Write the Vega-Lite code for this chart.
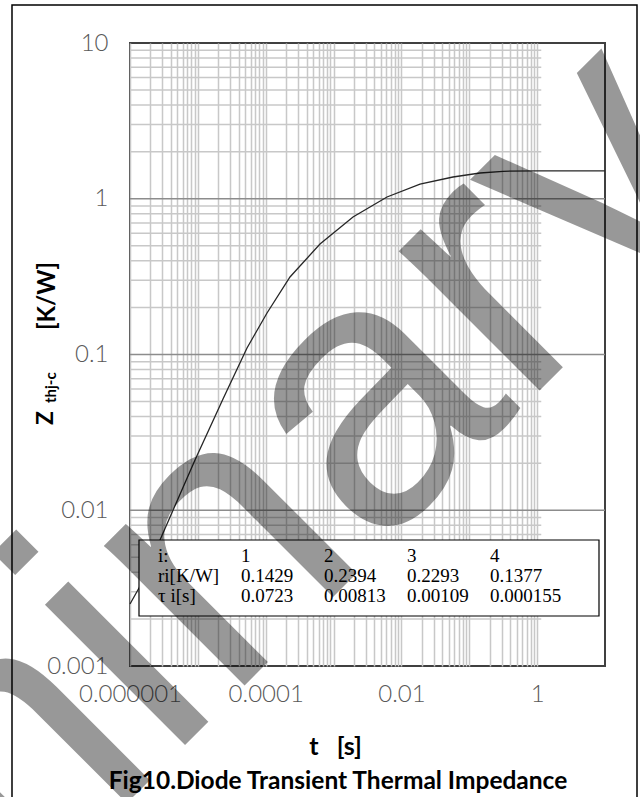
{
  "$schema": "https://vega.github.io/schema/vega-lite/v6.json",
  "width": 475,
  "height": 623,
  "autosize": {"type": "none"},
  "padding": {"left": 130, "top": 43, "right": 35, "bottom": 131},
  "background": "white",
  "config": {"view": {"stroke": "#404040", "strokeWidth": 2}},
  "resolve": {"scale": {"x": "independent", "y": "independent"}},
  "layer": [
    {
      "layer": [
        {
          "data": {"values": [{}]},
          "mark": {"type": "rect", "fill": "transparent", "stroke": "black", "strokeWidth": 1.5},
          "encoding": {
            "x": {"datum": 1.824e-8}, "x2": {"datum": 29.62},
            "y": {"datum": 17.54}, "y2": {"datum": 0.0001281}
          }
        },
        {
          "data": {"values": [
            {"z": 0.002}, {"z": 0.003}, {"z": 0.004}, {"z": 0.005}, {"z": 0.006}, {"z": 0.007}, {"z": 0.008}, {"z": 0.009},
            {"z": 0.02}, {"z": 0.03}, {"z": 0.04}, {"z": 0.05}, {"z": 0.06}, {"z": 0.07}, {"z": 0.08}, {"z": 0.09},
            {"z": 0.2}, {"z": 0.3}, {"z": 0.4}, {"z": 0.5}, {"z": 0.6}, {"z": 0.7}, {"z": 0.8}, {"z": 0.9},
            {"z": 2}, {"z": 3}, {"z": 4}, {"z": 5}, {"z": 6}, {"z": 7}, {"z": 8}, {"z": 9}
          ]},
          "mark": {"type": "rule", "color": "#c8c8c8", "strokeWidth": 1.5},
          "encoding": {
            "y": {"field": "z", "type": "quantitative", "title": null},
            "x": {"datum": 0.000001}, "x2": {"datum": 1.15}
          }
        },
        {
          "data": {"values": [{"z": 0.01}, {"z": 0.1}, {"z": 1}]},
          "mark": {"type": "rule", "color": "#8c8c8c", "strokeWidth": 1.5},
          "encoding": {
            "y": {"field": "z", "type": "quantitative", "title": null},
            "x": {"datum": 0.000001}, "x2": {"datum": 10}
          }
        },
        {
          "data": {"values": [
            {"t": 0.000001, "z": 0.0025},
            {"t": 0.000001357, "z": 0.003168},
            {"t": 0.000002768, "z": 0.006442},
            {"t": 0.00000908, "z": 0.02102},
            {"t": 0.00002347, "z": 0.05179},
            {"t": 0.0000530, "z": 0.1101},
            {"t": 0.0001045, "z": 0.1847},
            {"t": 0.000228, "z": 0.3145},
            {"t": 0.000631, "z": 0.5122},
            {"t": 0.001934, "z": 0.7633},
            {"t": 0.00613, "z": 1.026},
            {"t": 0.01878, "z": 1.243},
            {"t": 0.05754, "z": 1.379},
            {"t": 0.1439, "z": 1.463},
            {"t": 0.314, "z": 1.501},
            {"t": 1, "z": 1.51},
            {"t": 10, "z": 1.51}
          ]},
          "mark": {"type": "line", "color": "#262626", "strokeWidth": 1.3},
          "encoding": {
            "x": {
              "field": "t", "type": "quantitative",
              "scale": {"type": "log", "domain": [0.000001, 10]},
              "axis": {
                "values": [0.000001, 0.000002, 0.000003, 0.000004, 0.000005, 0.000006, 0.000007, 0.000008, 0.000009,
                           0.00001, 0.00002, 0.00003, 0.00004, 0.00005, 0.00006, 0.00007, 0.00008, 0.00009,
                           0.0001, 0.0002, 0.0003, 0.0004, 0.0005, 0.0006, 0.0007, 0.0008, 0.0009,
                           0.001, 0.002, 0.003, 0.004, 0.005, 0.006, 0.007, 0.008, 0.009,
                           0.01, 0.02, 0.03, 0.04, 0.05, 0.06, 0.07, 0.08, 0.09,
                           0.1, 0.2, 0.3, 0.4, 0.5, 0.6, 0.7, 0.8, 0.9, 1],
                "grid": true, "gridColor": "#c8c8c8", "gridWidth": 1.5,
                "ticks": false, "tickSize": 0, "domain": false,
                "labelExpr": "(abs(log(datum.value)/LN10 - round(log(datum.value)/LN10)) < 0.001 && round(log(datum.value)/LN10) % 2 == 0) ? format(datum.value, '~f') : ''",
                "labelOverlap": false, "labelFlush": false, "labelBound": false,
                "labelFont": "Lato", "labelFontWeight": 300, "labelFontSize": 24, "labelColor": "#595959",
                "labelPadding": 16,
                "title": "t\u00a0\u00a0\u00a0[s]",
                "titleFont": "Lato", "titleFontWeight": "bold", "titleFontSize": 25, "titleColor": "black",
                "titleX": 205, "titleY": 88, "titleAlign": "center", "titleBaseline": "alphabetic"
              }
            },
            "y": {
              "field": "z", "type": "quantitative",
              "scale": {"type": "log", "domain": [0.001, 10]},
              "axis": {
                "values": [0.001, 0.01, 0.1, 1, 10],
                "grid": false, "ticks": false, "tickSize": 0, "domain": false,
                "labelExpr": "format(datum.value, '~f')",
                "labelOverlap": false, "labelFlush": false, "labelBound": false,
                "labelFont": "Lato", "labelFontWeight": 300, "labelFontSize": 24, "labelColor": "#595959",
                "labelPadding": 22,
                "title": null
              }
            }
          }
        },
        {
          "data": {"values": [{}]},
          "mark": {"type": "rect", "fill": "white", "stroke": "black", "strokeWidth": 1.2},
          "encoding": {
            "x": {"datum": 0.000001357}, "x2": {"datum": 8.157},
            "y": {"datum": 0.006442}, "y2": {"datum": 0.002094}
          }
        },
        {
          "data": {"values": [{}]},
          "mark": {"type": "text", "text": "Fig10.Diode Transient Thermal Impedance", "font": "Lato", "fontWeight": "bold", "fontSize": 24.5, "align": "center", "baseline": "alphabetic", "color": "black"},
          "encoding": {"x": {"datum": 0.0011623}, "y": {"datum": 0.0001623}}
        },
        {
          "data": {"values": [{}]},
          "mark": {"type": "text", "text": "Z", "font": "Lato", "fontWeight": "bold", "fontSize": 23, "angle": -90, "align": "left", "baseline": "alphabetic", "color": "black"},
          "encoding": {"x": {"datum": 7.334e-8}, "y": {"datum": 0.03527}}
        },
        {
          "data": {"values": [{}]},
          "mark": {"type": "text", "text": "thj-c", "font": "Lato", "fontWeight": "bold", "fontSize": 15, "angle": -90, "align": "left", "baseline": "alphabetic", "color": "black"},
          "encoding": {"x": {"datum": 8.118e-8}, "y": {"datum": 0.04883}}
        },
        {
          "data": {"values": [{}]},
          "mark": {"type": "text", "text": "[K/W]", "font": "Lato", "fontWeight": "bold", "fontSize": 24, "angle": -90, "align": "center", "baseline": "alphabetic", "color": "black"},
          "encoding": {"x": {"datum": 7.846e-8}, "y": {"datum": 0.2375}}
        }
      ]
    },
    {
      "data": {"values": [
        {"row": 0, "col": 0, "label": "i:"},
        {"row": 0, "col": 1, "label": "1"},
        {"row": 0, "col": 2, "label": "2"},
        {"row": 0, "col": 3, "label": "3"},
        {"row": 0, "col": 4, "label": "4"},
        {"row": 1, "col": 0, "label": "ri[K/W]"},
        {"row": 1, "col": 1, "label": "0.1429"},
        {"row": 1, "col": 2, "label": "0.2394"},
        {"row": 1, "col": 3, "label": "0.2293"},
        {"row": 1, "col": 4, "label": "0.1377"},
        {"row": 2, "col": 0, "label": "\u00a0τ i[s]"},
        {"row": 2, "col": 1, "label": "0.0723"},
        {"row": 2, "col": 2, "label": "0.00813"},
        {"row": 2, "col": 3, "label": "0.00109"},
        {"row": 2, "col": 4, "label": "0.000155"}
      ]},
      "mark": {"type": "text", "font": "Liberation Serif", "fontSize": 19, "align": "left", "baseline": "alphabetic", "color": "black"},
      "encoding": {
        "x": {"field": "col", "type": "quantitative", "scale": {"domain": [0, 4], "range": [28, 360]}, "axis": null},
        "y": {"field": "row", "type": "quantitative", "scale": {"domain": [0, 2], "range": [519, 559]}, "axis": null},
        "text": {"field": "label"}
      }
    },
    {
      "data": {"values": [{}]},
      "mark": {"type": "text", "text": "Preliminary", "font": "Liberation Sans", "fontSize": 375, "angle": -45, "align": "center", "baseline": "alphabetic", "color": "black", "opacity": 0.4},
      "encoding": {
        "x": {"datum": 1.772e-7, "scale": {"type": "log", "domain": [0.000001, 10]}, "axis": null},
        "y": {"datum": 0.0000649, "scale": {"type": "log", "domain": [0.001, 10]}, "axis": null}
      }
    }
  ]
}
